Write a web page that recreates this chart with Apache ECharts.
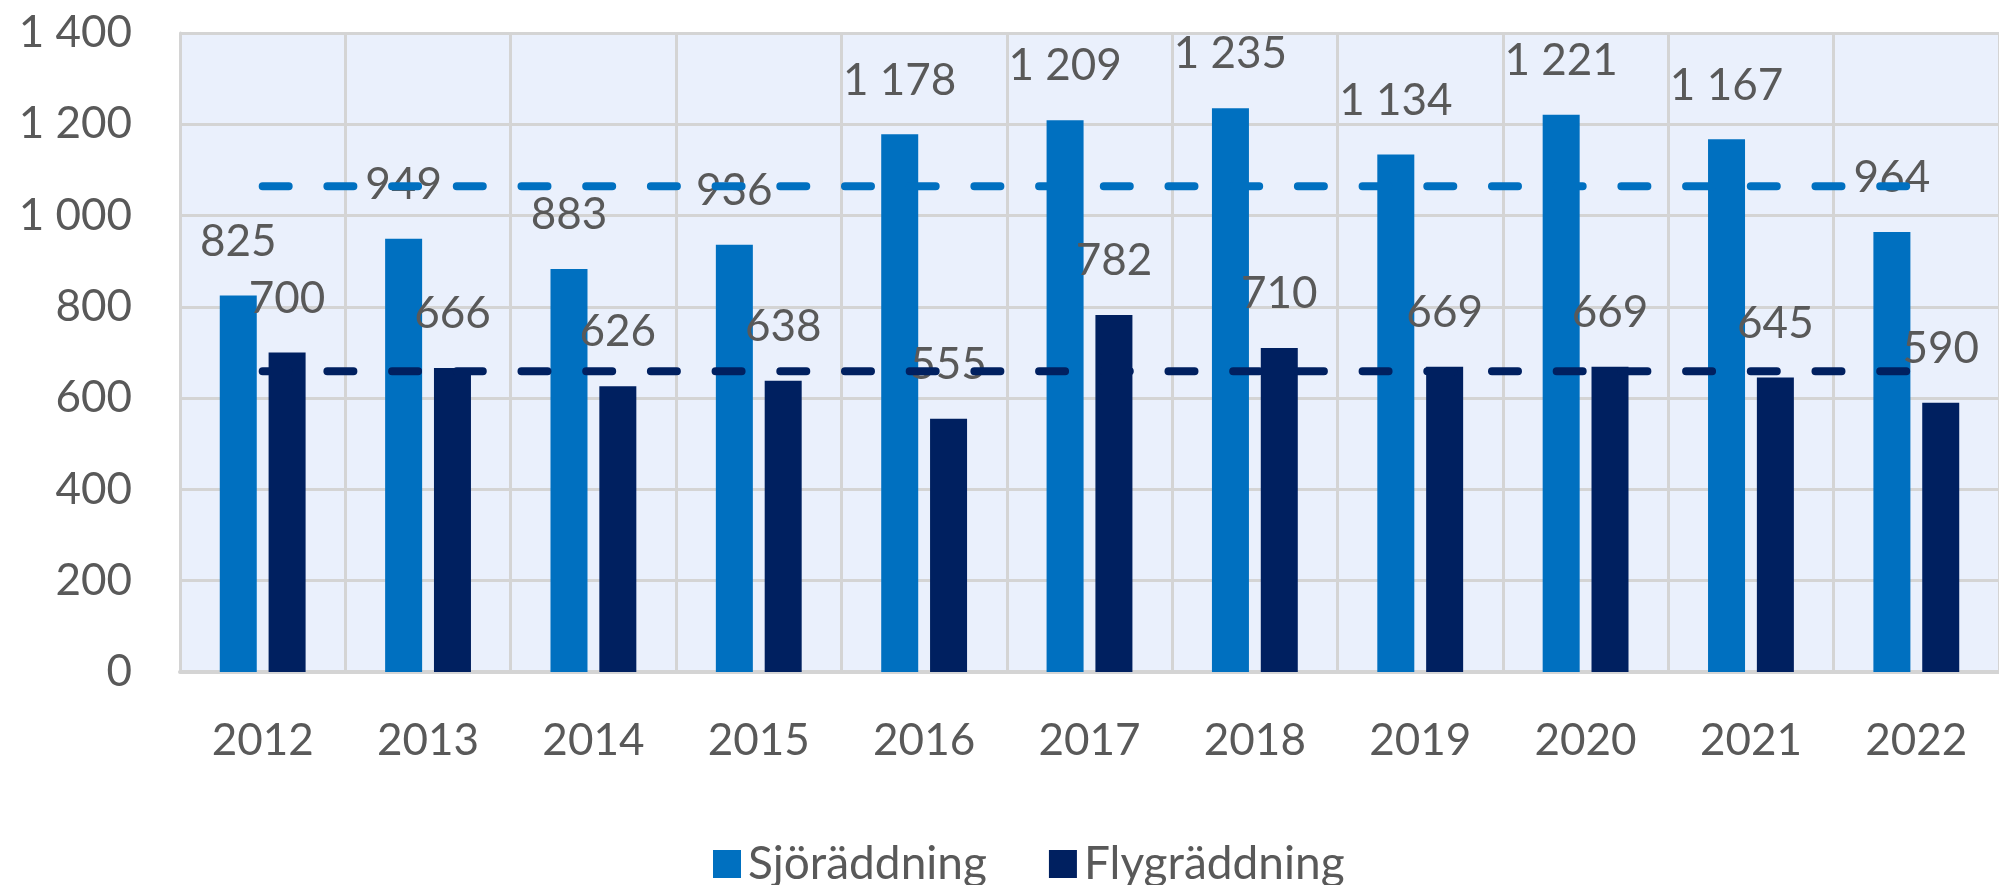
<!DOCTYPE html>
<html>
<head>
<meta charset="utf-8">
<script src="https://cdn.jsdelivr.net/npm/echarts@6/dist/echarts.min.js"></script>
<style>
  html, body { margin: 0; padding: 0; background: #fff; }
  #chart { width: 1999px; height: 885px; }
</style>
</head>
<body>
<div id="chart"></div>
<script>
var years = ['2012', '2013', '2014', '2015', '2016', '2017', '2018', '2019', '2020', '2021', '2022'];
var sjoraddning = [825, 949, 883, 936, 1178, 1209, 1235, 1134, 1221, 1167, 964];
var flygraddning = [700, 666, 626, 638, 555, 782, 710, 669, 669, 645, 590];
// average lines
var sjoMedel = [1064, 1064, 1064, 1064, 1064, 1064, 1064, 1064, 1064, 1064, 1064];
var flygMedel = [659, 659, 659, 659, 659, 659, 659, 659, 659, 659, 659];

var font = 'Lato';
var grey = '#595959';

function spaced(v) {
    return String(v).replace(/\B(?=(\d{3})+(?!\d))/g, ' ');
}

var chart = echarts.init(document.getElementById('chart'));
var option = {
    backgroundColor: '#ffffff',
    animation: false,
    grid: {
        left: 180,
        right: -11,
        top: 33,
        bottom: 213,
        show: true,
        backgroundColor: '#EAF0FC',
        borderWidth: 0
    },
    legend: {
        data: ['Sjöräddning', 'Flygräddning'],
        left: 708,
        top: 836,
        itemWidth: 28,
        itemHeight: 28,
        itemGap: 62,
        icon: 'rect',
        textStyle: { fontFamily: font, fontSize: 46, color: grey, padding: [0, 0, 0, 2] }
    },
    xAxis: {
        type: 'category',
        data: years,
        axisLine: { lineStyle: { color: '#D4D4D4', width: 4 } },
        axisTick: { show: false },
        splitLine: { show: true, lineStyle: { color: '#D4D4D4', width: 3 } },
        axisLabel: { fontFamily: font, fontSize: 44, color: grey, margin: 47 }
    },
    yAxis: {
        type: 'value',
        min: 0,
        max: 1400,
        interval: 200,
        axisLine: { show: true, lineStyle: { color: '#D4D4D4', width: 3 } },
        axisTick: { show: false },
        splitLine: { lineStyle: { color: '#D4D4D4', width: 3 } },
        axisLabel: { fontFamily: font, fontSize: 44, color: grey, margin: 48, formatter: spaced }
    },
    series: [
        {
            name: 'Sjöräddning',
            type: 'bar',
            data: sjoraddning,
            barWidth: 37,
            barGap: '32%',
            itemStyle: { color: '#0070C0' },
            label: {
                show: true, position: 'top', distance: 32,
                fontFamily: font, fontSize: 44, color: grey,
                formatter: function (p) { return spaced(p.value); }
            }
        },
        {
            name: 'Flygräddning',
            type: 'bar',
            data: flygraddning,
            barWidth: 37,
            itemStyle: { color: '#002060' },
            label: {
                show: true, position: 'top', distance: 32,
                fontFamily: font, fontSize: 44, color: grey,
                formatter: function (p) { return spaced(p.value); }
            }
        },
        {
            name: 'Medel sjö',
            type: 'line',
            data: sjoMedel,
            symbol: 'none',
            silent: true,
            lineStyle: { color: '#0070C0', width: 8, type: [26, 38.7], cap: 'round' }
        },
        {
            name: 'Medel flyg',
            type: 'line',
            data: flygMedel,
            symbol: 'none',
            silent: true,
            lineStyle: { color: '#002060', width: 8, type: [26, 38.7], cap: 'round' }
        }
    ]
};
chart.setOption(option);
</script>
</body>
</html>
